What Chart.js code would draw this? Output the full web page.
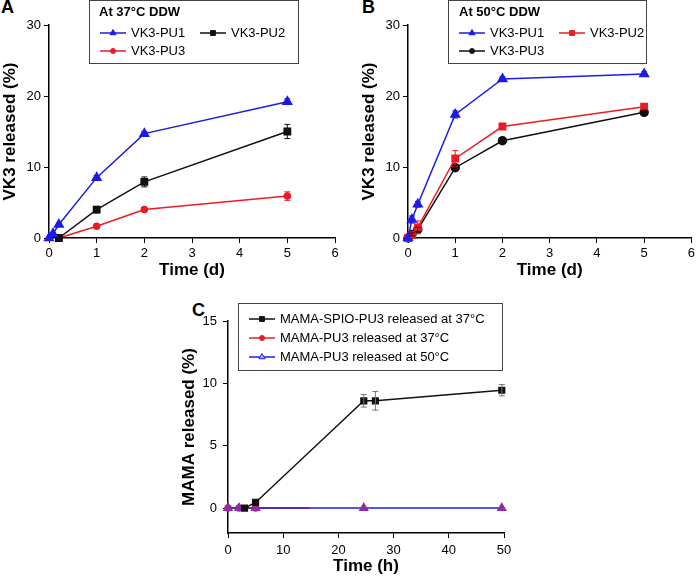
<!DOCTYPE html>
<html>
<head>
<meta charset="utf-8">
<script src="https://cdn.jsdelivr.net/npm/chart.js@4.4.1/dist/chart.umd.min.js"></script>
<style>
  body { margin: 0; background: #fff; width: 698px; height: 577px; position: relative; overflow: hidden; }
  canvas { position: absolute; }
  .tag { position: absolute; font: bold 18px "Liberation Sans", Arial, sans-serif; line-height: 1; color: #000; }
</style>
</head>
<body>
<div class="tag" style="left:1px;top:-2px">A</div>
<div class="tag" style="left:362px;top:-2px">B</div>
<div class="tag" style="left:192px;top:301px">C</div>
<canvas id="chartA" width="349" height="290" style="left:0;top:0"></canvas>
<canvas id="chartB" width="339" height="290" style="left:359px;top:0"></canvas>
<canvas id="chartC" width="351" height="287" style="left:179px;top:290px"></canvas>
<script>
// panel A / B: VK3 release, time in days
const days = [0, 0.083, 0.208, 1, 2, 5]
const dayTicks = [0, 1, 2, 3, 4, 5, 6]
const vkTicks = [0, 10, 20, 30]

const pu1At37 = [0, 0.6, 1.9, 8.5, 14.7, 19.2]
const pu2At37 = [null, null, 0, 4.0, 7.9, 15.0]
const pu3At37 = [null, null, 0, 1.65, 4.0, 5.9]
const pu1At37Err = [0, 0, 0.2, 0.3, 0.3, 0.4]
const pu2At37Err = [0, 0, 0, 0.45, 0.7, 1.0]
const pu3At37Err = [0, 0, 0, 0.15, 0.2, 0.6]

const pu1At50 = [0, 2.6, 4.75, 17.4, 22.4, 23.1]
const pu2At50 = [0, 0.4, 1.5, 11.2, 15.7, 18.5]
const pu3At50 = [0, 0.5, 1.2, 9.9, 13.7, 17.7]
const pu1At50Err = [0, 0.5, 0.4, 0.5, 0.3, 0.3]
const pu2At50Err = [0, 0.3, 0.9, 1.1, 0.3, 0.3]
const pu3At50Err = [0, 0.2, 0.3, 0.3, 0.3, 0.3]

// panel C: MAMA release, time in hours
const hoursSpio = [3, 5, 24.6, 26.7, 49.6]
const spioPu3 = [0, 0.45, 8.6, 8.6, 9.45]
const spioPu3Err = [0, 0, 0.5, 0.75, 0.45]
const hoursPu3At37 = [0, 2, 5, 14.8]
const mamaPu3At37 = [0, 0, 0, 0]
const hoursPu3At50 = [0, 2, 5, 24.6, 49.6]
const mamaPu3At50 = [0, 0, 0, 0, 0]
const hourTicks = [0, 10, 20, 30, 40, 50]
const mamaTicks = [0, 5, 10, 15]

const BLUE = "#1c1ce8"
const RED = "#ec1c24"
const BLACK = "#111111"
const FONT = "'Liberation Sans', Arial, sans-serif"

Chart.defaults.font.family = FONT
Chart.defaults.color = "#000"

const pts = (xs, ys) => xs.map((x, i) => ({ x: x, y: ys[i] }))

function marker(ctx, style, x, y, r) {
  ctx.beginPath()
  if (style === "triangle") {
    ctx.moveTo(x, y - r)
    ctx.lineTo(x + r * 0.87, y + r * 0.5)
    ctx.lineTo(x - r * 0.87, y + r * 0.5)
    ctx.closePath()
  } else if (style === "rect") {
    ctx.rect(x - r * 0.7, y - r * 0.7, r * 1.4, r * 1.4)
  } else {
    ctx.arc(x, y, r, 0, Math.PI * 2)
  }
  ctx.fill()
  ctx.stroke()
}

// vertical error bars with caps, read from dataset.errors
const errorBars = {
  id: "errorBars",
  afterDatasetsDraw(chart) {
    const ctx = chart.ctx
    const xs = chart.scales.x
    const ys = chart.scales.y
    chart.data.datasets.forEach(ds => {
      if (!ds.errors) return
      ctx.save()
      ctx.strokeStyle = ds.errorColor || ds.borderColor
      ctx.lineWidth = 1
      ds.data.forEach((p, i) => {
        const e = ds.errors[i]
        if (!e || p.y === null) return
        const px = xs.getPixelForValue(p.x)
        const top = ys.getPixelForValue(p.y + e)
        const bot = ys.getPixelForValue(p.y - e)
        ctx.beginPath()
        ctx.moveTo(px, top); ctx.lineTo(px, bot)
        ctx.moveTo(px - 3, top); ctx.lineTo(px + 3, top)
        ctx.moveTo(px - 3, bot); ctx.lineTo(px + 3, bot)
        ctx.stroke()
      })
      ctx.restore()
    })
  }
}

// boxed legend with optional bold title, entries placed in slots
const boxLegend = {
  id: "boxLegend",
  afterDraw(chart, args, opts) {
    const ctx = chart.ctx
    const [bx, by, bw, bh] = opts.box
    ctx.save()
    ctx.fillStyle = "#fff"
    ctx.fillRect(bx, by, bw, bh)
    ctx.strokeStyle = "#444"
    ctx.lineWidth = 1
    ctx.strokeRect(bx + 0.5, by + 0.5, bw, bh)
    ctx.textBaseline = "middle"
    ctx.textAlign = "left"
    if (opts.title) {
      ctx.fillStyle = "#000"
      ctx.font = "bold 13px " + FONT
      ctx.fillText(opts.title, opts.titleAt[0], opts.titleAt[1])
    }
    ctx.font = "13px " + FONT
    chart.data.datasets.forEach((ds, i) => {
      const [x, y] = opts.slots[i]
      ctx.strokeStyle = ds.borderColor
      ctx.lineWidth = 1.5
      ctx.beginPath()
      ctx.moveTo(x, y)
      ctx.lineTo(x + 26, y)
      ctx.stroke()
      ctx.fillStyle = ds.legendFill || ds.borderColor
      ctx.lineWidth = 1
      marker(ctx, ds.pointStyle, x + 13, y, ds.pointStyle === "circle" ? 2.5 : 3.5)
      ctx.fillStyle = "#000"
      ctx.fillText(ds.label, x + 31, y + 0.5)
    })
    ctx.restore()
  }
}

function axis(min, max, tickValues, title, o) {
  return {
    type: "linear",
    min: min,
    max: max,
    afterBuildTicks: s => { s.ticks = tickValues.map(v => ({ value: v })) },
    afterFit: s => {
      if (s.isHorizontal()) s.height = o.size
      else s.width = o.size
    },
    grid: { drawOnChartArea: false, drawTicks: true, tickLength: 5, color: "#000", lineWidth: 1 },
    border: { display: true, color: "#000", width: 1.5 },
    ticks: { padding: o.tickPad, color: "#000", font: { size: 13 } },
    title: {
      display: true,
      text: title,
      color: "#000",
      font: { size: 17, weight: "bold" },
      padding: { top: o.titlePad, bottom: o.titlePad }
    }
  }
}

function series(label, xs, ys, errs, color, style, radius, extra) {
  return Object.assign({
    label: label,
    data: pts(xs, ys),
    errors: errs,
    borderColor: color,
    backgroundColor: color,
    pointBackgroundColor: color,
    pointBorderColor: color,
    pointStyle: style,
    pointRadius: radius,
    pointHoverRadius: radius,
    borderWidth: 1.5,
    tension: 0,
    clip: false
  }, extra || {})
}

function baseOptions(padding, scales, legend) {
  return {
    responsive: false,
    animation: false,
    events: [],
    layout: { padding: padding },
    scales: scales,
    plugins: {
      legend: { display: false },
      tooltip: { enabled: false },
      boxLegend: legend
    }
  }
}

new Chart(document.getElementById("chartA"), {
  type: "line",
  data: {
    datasets: [
      series("VK3-PU1", days, pu1At37, pu1At37Err, BLUE, "triangle", 5),
      series("VK3-PU2", days, pu2At37, pu2At37Err, BLACK, "rect", 4.5),
      series("VK3-PU3", days, pu3At37, pu3At37Err, RED, "circle", 3)
    ]
  },
  options: baseOptions(
    { top: 25, right: 14, left: 0, bottom: 0 },
    {
      x: axis(0, 6, dayTicks, "Time (d)", { size: 52, tickPad: 3, titlePad: 9 }),
      y: axis(0, 30, vkTicks, "VK3 released (%)", { size: 49, tickPad: 3, titlePad: 0 })
    },
    { box: [89, 0, 209, 63], title: "At 37°C DDW", titleAt: [99, 12], slots: [[100, 33], [200, 33], [100, 51]] }
  ),
  plugins: [errorBars, boxLegend]
})

new Chart(document.getElementById("chartB"), {
  type: "line",
  data: {
    datasets: [
      series("VK3-PU1", days, pu1At50, pu1At50Err, BLUE, "triangle", 5),
      series("VK3-PU2", days, pu2At50, pu2At50Err, RED, "rect", 4.5),
      series("VK3-PU3", days, pu3At50, pu3At50Err, BLACK, "circle", 4)
    ]
  },
  options: baseOptions(
    { top: 25, right: 5, left: 0, bottom: 0 },
    {
      x: axis(0, 6, dayTicks, "Time (d)", { size: 52, tickPad: 3, titlePad: 9 }),
      y: axis(0, 30, vkTicks, "VK3 released (%)", { size: 49, tickPad: 3, titlePad: 0 })
    },
    { box: [89, 0, 198, 63], title: "At 50°C DDW", titleAt: [100, 12], slots: [[100, 33], [200, 33], [100, 51]] }
  ),
  plugins: [errorBars, boxLegend]
})

new Chart(document.getElementById("chartC"), {
  type: "line",
  data: {
    datasets: [
      series("MAMA-SPIO-PU3 released at 37°C", hoursSpio, spioPu3, spioPu3Err, BLACK, "rect", 4,
        { errorColor: "#777", order: 0 }),
      series("MAMA-PU3 released at 37°C", hoursPu3At37, mamaPu3At37, null, RED, "circle", [3, 3, 3, 0],
        { order: 2, pointHoverRadius: 0 }),
      series("MAMA-PU3 released at 50°C", hoursPu3At50, mamaPu3At50, null, BLUE, "triangle", 4.5,
        { order: 1, pointBackgroundColor: "#8a2fa6", pointBorderColor: "#8a2fa6", legendFill: "#b4b8f2" })
    ]
  },
  options: baseOptions(
    { top: 31, right: 26, left: 0, bottom: 0 },
    {
      x: axis(0, 50, hourTicks, "Time (h)", { size: 44, tickPad: 5, titlePad: 0 }),
      y: axis(-2, 15, mamaTicks, "MAMA released (%)", { size: 49, tickPad: 6, titlePad: 0 })
    },
    { box: [59, 13, 264, 67], slots: [[70, 29], [70, 48], [70, 67]] }
  ),
  plugins: [errorBars, boxLegend]
})
</script>
</body>
</html>
